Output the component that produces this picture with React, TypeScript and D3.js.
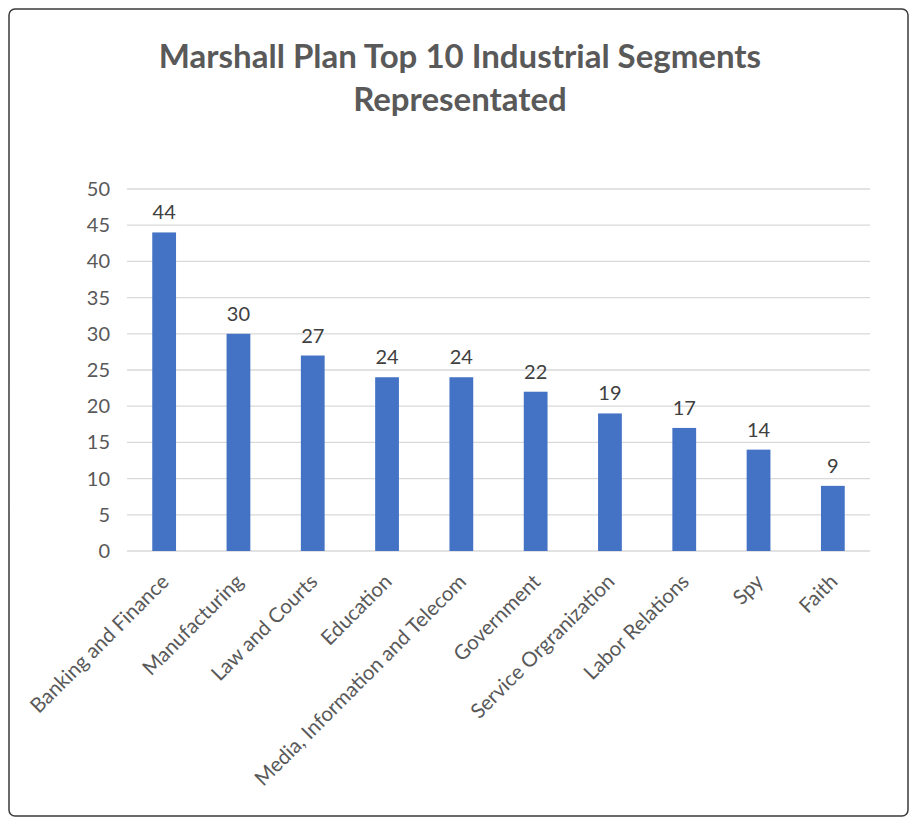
import { useEffect, useRef } from "react";
import * as d3 from "d3";

const categories = [
  "Banking and Finance",
  "Manufacturing",
  "Law and Courts",
  "Education",
  "Media, Information and Telecom",
  "Government",
  "Service Orgranization",
  "Labor Relations",
  "Spy",
  "Faith",
];
const counts = [44, 30, 27, 24, 24, 22, 19, 17, 14, 9];
const yTicks = [0, 5, 10, 15, 20, 25, 30, 35, 40, 45, 50];
const titleLines = ["Marshall Plan Top 10 Industrial Segments", "Representated"];

const W = 911;
const H = 819;
const FONT = "Lato, 'Open Sans', sans-serif";

export default function App() {
  const svgRef = useRef<SVGSVGElement>(null);

  useEffect(() => {
    const svgEl = svgRef.current;
    if (!svgEl) return;
    const root = d3.select(svgEl);
    root.selectAll("*").remove();

    const plot = { left: 127, right: 870, top: 189, bottom: 551 };

    const x = d3
      .scaleBand<string>()
      .domain(categories)
      .range([plot.left, plot.right])
      .paddingInner(0.68)
      .paddingOuter(0.34);
    const y = d3.scaleLinear().domain([0, 50]).range([plot.bottom, plot.top]);

    // frame
    root
      .append("rect")
      .attr("x", 9)
      .attr("y", 9)
      .attr("width", 899)
      .attr("height", 807)
      .attr("rx", 6)
      .attr("fill", "#fff")
      .attr("stroke", "#3a3a3a")
      .attr("stroke-width", 1.5);

    // title
    root
      .append("g")
      .selectAll("text")
      .data(titleLines)
      .join("text")
      .attr("x", 460)
      .attr("y", (_, i) => 68 + i * 43)
      .attr("text-anchor", "middle")
      .attr("font-family", FONT)
      .attr("font-weight", 700)
      .attr("font-size", 33)
      .attr("fill", "#595959")
      .text((d) => d);

    // gridlines
    root
      .append("g")
      .selectAll("line")
      .data(yTicks)
      .join("line")
      .attr("x1", plot.left)
      .attr("x2", plot.right)
      .attr("y1", (d) => y(d))
      .attr("y2", (d) => y(d))
      .attr("stroke", "#d9d9d9")
      .attr("stroke-width", 1.3);

    // y tick labels
    root
      .append("g")
      .selectAll("text")
      .data(yTicks)
      .join("text")
      .attr("x", 110)
      .attr("y", (d) => y(d))
      .attr("dy", "0.35em")
      .attr("text-anchor", "end")
      .attr("font-family", FONT)
      .attr("font-size", 20)
      .attr("fill", "#595959")
      .text((d) => d);

    // bars
    root
      .append("g")
      .selectAll("rect")
      .data(counts)
      .join("rect")
      .attr("x", (_, i) => x(categories[i])!)
      .attr("y", (d) => y(d))
      .attr("width", x.bandwidth())
      .attr("height", (d) => y(0) - y(d))
      .attr("fill", "#4472c4");

    // value labels
    root
      .append("g")
      .selectAll("text")
      .data(counts)
      .join("text")
      .attr("x", (_, i) => x(categories[i])! + x.bandwidth() / 2)
      .attr("y", (d) => y(d) - 13)
      .attr("text-anchor", "middle")
      .attr("font-family", FONT)
      .attr("font-size", 20)
      .attr("fill", "#404040")
      .text((d) => d);

    // category labels
    root
      .append("g")
      .selectAll("text")
      .data(categories)
      .join("text")
      .attr("transform", (d) => {
        const cx = x(d)! + x.bandwidth() / 2 + 6;
        return `translate(${cx},${plot.bottom + 32}) rotate(-45)`;
      })
      .attr("text-anchor", "end")
      .attr("font-family", FONT)
      .attr("font-size", 20.5)
      .attr("fill", "#595959")
      .text((d) => d);
  }, []);

  return (
    <svg
      ref={svgRef}
      width={W}
      height={H}
      style={{ position: "absolute", left: 0, top: 0, display: "block" }}
    />
  );
}
